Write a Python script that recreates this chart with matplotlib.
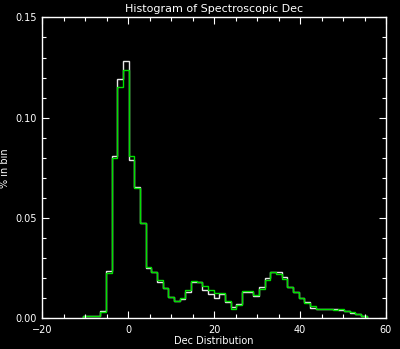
import numpy as np
import matplotlib
matplotlib.use("Agg")
import matplotlib.pyplot as plt
from matplotlib.ticker import MultipleLocator, FormatStrFormatter

# Histogram bins (Dec, degrees)
bin_start = -10.4
bin_width = 1.318
n_bins = 50

# Fraction of objects per bin: full sample (white) and subsample (green)
white_vals = [0.001, 0.001, 0.001, 0.0033, 0.0236, 0.081, 0.1195, 0.1285, 0.079, 0.0652,
              0.0473, 0.0251, 0.0231, 0.018, 0.0151, 0.0107, 0.0087, 0.0095, 0.0128, 0.0181,
              0.0178, 0.014, 0.012, 0.0101, 0.0118, 0.0082, 0.0053, 0.0068, 0.013, 0.013,
              0.011, 0.0153, 0.0198, 0.0231, 0.023, 0.0202, 0.0154, 0.0128, 0.0102, 0.0078,
              0.0052, 0.0043, 0.0043, 0.0045, 0.0043, 0.0041, 0.0035, 0.0025, 0.0018, 0.001]
green_vals = [0.001, 0.001, 0.001, 0.003, 0.0223, 0.0797, 0.1152, 0.124, 0.081, 0.065,
              0.0473, 0.0256, 0.023, 0.019, 0.0151, 0.0107, 0.0087, 0.0098, 0.014, 0.0186,
              0.0181, 0.016, 0.014, 0.0123, 0.0123, 0.0087, 0.0043, 0.0065, 0.0133, 0.0135,
              0.0115, 0.0145, 0.019, 0.0228, 0.022, 0.0192, 0.0155, 0.013, 0.0098, 0.0077,
              0.006, 0.0043, 0.0043, 0.0043, 0.004, 0.0043, 0.0034, 0.0028, 0.0018, 0.0008]

x_ticks = [-20, 0, 20, 40, 60]
y_ticks = [0.00, 0.05, 0.10, 0.15]

edges = bin_start + bin_width * np.arange(n_bins + 1)

fg = "white"
fig = plt.figure(figsize=(4.0, 3.49), dpi=100, facecolor="black")
ax = fig.add_axes([0.105, 0.089, 0.86, 0.861], facecolor="black")

ax.stairs(white_vals, edges, color="#e8e8e8", linewidth=1.0)
ax.stairs(green_vals, edges, color="#00e000", linewidth=1.0)

ax.set_xlim(-20, 60)
ax.set_ylim(0, 0.15)
ax.set_xticks(x_ticks)
ax.set_yticks(y_ticks)
ax.xaxis.set_minor_locator(MultipleLocator(5))
ax.yaxis.set_minor_locator(MultipleLocator(0.01))
ax.yaxis.set_major_formatter(FormatStrFormatter("%.2f"))

ax.tick_params(which="both", direction="in", top=True, right=True,
               colors=fg, labelsize=7, width=0.8)
ax.tick_params(which="major", length=5)
ax.tick_params(which="minor", length=3)
ax.tick_params(axis="x", pad=5)
ax.tick_params(axis="y", pad=4)
for s in ax.spines.values():
    s.set_color(fg)
    s.set_linewidth(1.0)

ax.set_title("Histogram of Spectroscopic Dec", color=fg, fontsize=8, pad=4)
ax.set_xlabel("Dec Distribution", color=fg, fontsize=7, labelpad=1)
ax.set_ylabel("% in bin", color=fg, fontsize=7)
ax.yaxis.set_label_coords(-0.092, 0.5)

fig.savefig("out.png", dpi=100, facecolor="black")
